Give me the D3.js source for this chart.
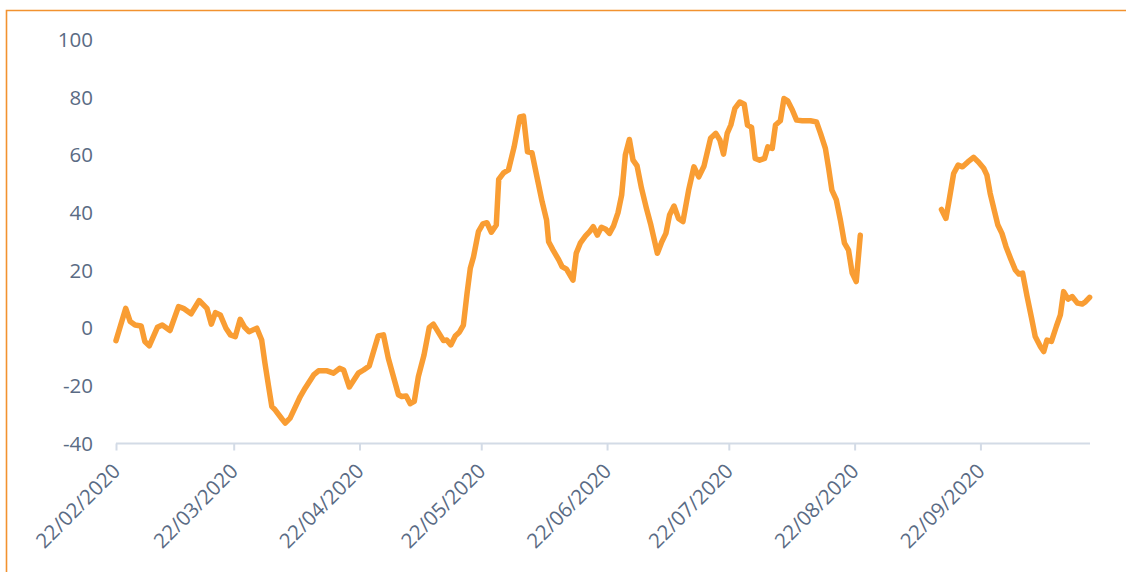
<!DOCTYPE html>
<html>
<head>
<meta charset="utf-8">
<script src="https://cdn.jsdelivr.net/npm/d3@7"></script>
<style>
  html, body { margin: 0; padding: 0; background: #fff; }
  svg { display: block; }
  .tick-label { font-family: "Open Sans", sans-serif; font-size: 20.5px; fill: #5a6b84; }
</style>
</head>
<body>
<svg id="chart"></svg>
<script>
// giorno 0 = 22/02/2020 (null = interruzione della serie)
const startDate = new Date(Date.UTC(2020, 1, 22));
const endDate = new Date(Date.UTC(2020, 9, 19));

const dayIndex = [
  0, 2.4, 3.5, 4.7, 6.2, 7.1, 8.2, 10.2, 11.4, 13.3, 15.4, 16.6, 18.5, 20.5, 22.4, 23.5, 24.5, 25.7,
  27.1, 28.2, 29.4, 30.6, 31.7, 32.8, 34.7, 35.9, 36.7, 37.6, 38.4, 39.2, 40.9, 41.7, 42.9, 45.4,
  46.6, 48.7, 49.9, 52, 53.6, 55.1, 56.1, 57.5, 59.7, 61, 62.4, 64.6, 65.9, 67.1, 69.6, 70.4, 71.5,
  72.5, 73.5, 74.5, 75.9, 77.2, 78.2, 80.7, 81.5, 82.5, 83.6, 84.6, 85.6, 86.5, 87.3, 88.1, 89.3,
  90.4, 91.4, 92.5, 93.7, 94.3, 95.5, 96.7, 98.1, 99.5, 100.4, 101.4, 102.5, 103.8, 105, 106.1,
  106.6, 107.7, 109.1, 109.9, 111, 112.6, 113.4, 114.4, 115.7, 116.7, 117.6, 118.6, 119.6, 120.7,
  121.6, 122.6, 123.7, 124.6, 125.5, 126.5, 127.4, 128.4, 129.5, 130.7, 131.8, 133.4, 134.5, 135.5,
  136.4, 137.5, 138.6, 139.7, 141.1, 142.4, 143.6, 144.9, 146.5, 147.8, 148.8, 149.7, 150.6, 151.5,
  152.5, 153.7, 154.8, 155.6, 156.6, 157.5, 158.6, 159.8, 160.6, 161.7, 162.5, 163.7, 164.6, 165.5,
  166.6, 167.7, 169.1, 171.1, 172.6, 173.6, 174.8, 175.6, 176.4, 177.5, 178.5, 179.5, 180.5, 181.4,
  182.4, 183.4,
  193,
  203.4, 204.5, 205.3, 206.4, 207.5, 208.6, 209.9, 211.3, 212.5, 213.8, 214.6, 215.4, 216.5, 217.3,
  218.3, 219.3, 220.4, 221.6, 222.5, 223.4, 224.5, 225.6, 226.5, 227.8, 228.6, 229.4, 230.5, 231.7,
  232.7, 233.5, 234.6, 235.6, 236.9, 238.1, 238.9, 239.9
];

const values = [
  -4.3, 6.9, 2.3, 1.1, 0.8, -4.6, -6.1, 0.3, 1.1, -0.8, 7.5, 6.9, 5.0, 9.6, 6.9, 1.4, 5.4, 4.6,
  0, -2.3, -2.9, 3.1, 0.3, -1.2, 0, -4.1, -12.1, -20.2, -27.2, -28.3, -31.5, -32.9, -31.2, -23.7,
  -20.8, -16.2, -14.8, -14.8, -15.6, -13.9, -14.5, -20.4, -15.6, -14.5, -13.1, -2.7, -2.3, -10.4, -23.1, -23.7, -23.5,
  -26.2, -25.4, -16.8, -9.3, 0.3, 1.4, -4.3, -4.1, -5.8, -2.7, -1.4, 1.1, 12.1, 20.8, 24.8, 33.5,
  36.2, 36.6, 33.3, 35.8, 51.6, 53.9, 54.9, 62.9, 73.3, 73.6, 61.2, 60.9, 52, 43.9, 37.5,
  30, 27.1, 23.7, 21.4, 20.5, 16.7, 26, 29.5, 32, 33.5, 35.2, 32.3, 35, 34.3,
  32.9, 35.5, 40.1, 46.2, 60.1, 65.5, 58.3, 56.3, 48.5, 41.6, 35.8, 26, 30, 32.9,
  39.3, 42.4, 38.1, 37, 47.9, 56, 52.5, 56.3, 65.9, 67.6, 65.3, 60.4, 67.6, 70.5,
  76.3, 78.5, 77.7, 70.5, 69.7, 58.9, 58.3, 58.9, 62.9, 62.4, 70.5, 72, 79.7, 78.9,
  75.9, 72.2, 72, 72, 71.6, 67.6, 62.4, 55.5, 47.9, 44.5, 37.5, 29.5, 27.1, 19.1,
  16.2, 32.3,
  null,
  41.2, 38.1, 44.5, 53.7, 56.6, 56, 57.7, 59.3, 57.7, 55.5, 53.1, 46.8, 40.4, 35.8,
  32.9, 28.3, 24.3, 20.2, 18.8, 19.1, 11, 3.5, -2.9, -6.4, -8.1, -4.1, -4.6, 0.6,
  4.6, 12.7, 10.1, 11, 8.7, 8.4, 9.2, 10.7
];

const yTicks = [-40, -20, 0, 20, 40, 60, 80, 100];
const xTickMonths = [1, 2, 3, 4, 5, 6, 7, 8]; // 22 di feb..set

const width = 1126, height = 572;

const svg = d3.select("#chart")
  .attr("width", width)
  .attr("height", height);

// cornice arancione
svg.append("path")
  .attr("d", `M6.5,${height} L6.5,10.5 L${width},10.5`)
  .attr("fill", "none")
  .attr("stroke", "#f2922f")
  .attr("stroke-width", 1.6);

const x = d3.scaleUtc()
  .domain([startDate, endDate])
  .range([116, 1090]);

const y = d3.scaleLinear()
  .domain([-40, 100])
  .range([443.5, 40]);

const data = dayIndex.map((d, i) => ({
  date: new Date(startDate.getTime() + d * 864e5),
  value: values[i]
}));

// etichette asse y (nessuna linea)
svg.append("g")
  .selectAll("text")
  .data(yTicks)
  .enter()
  .append("text")
  .attr("class", "tick-label")
  .attr("x", 93)
  .attr("y", d => y(d))
  .attr("dy", "0.35em")
  .attr("text-anchor", "end")
  .text(d => d);

// asse x
const tickDates = xTickMonths.map(m => new Date(Date.UTC(2020, m, 22)));
const xAxis = d3.axisBottom(x)
  .tickValues(tickDates)
  .tickSize(7)
  .tickFormat(d3.utcFormat("%d/%m/%Y"));

const gx = svg.append("g")
  .attr("transform", `translate(0,${y(-40)})`)
  .call(xAxis);

gx.select(".domain")
  .attr("stroke", "#d3dbe6")
  .attr("stroke-width", 2)
  .attr("d", `M${x.range()[0]},0H${x.range()[1]}`);
gx.selectAll(".tick line")
  .attr("stroke", "#d3dbe6")
  .attr("stroke-width", 2);
gx.selectAll(".tick text")
  .attr("class", "tick-label")
  .attr("text-anchor", "end")
  .attr("dy", null)
  .attr("y", 0)
  .attr("transform", "translate(5,29) rotate(-45)");

// linea
const line = d3.line()
  .defined(d => d.value !== null)
  .x(d => x(d.date))
  .y(d => y(d.value));

svg.append("path")
  .datum(data)
  .attr("fill", "none")
  .attr("stroke", "#f99d33")
  .attr("stroke-width", 5.5)
  .attr("stroke-linejoin", "round")
  .attr("stroke-linecap", "round")
  .attr("d", line);
</script>
</body>
</html>
